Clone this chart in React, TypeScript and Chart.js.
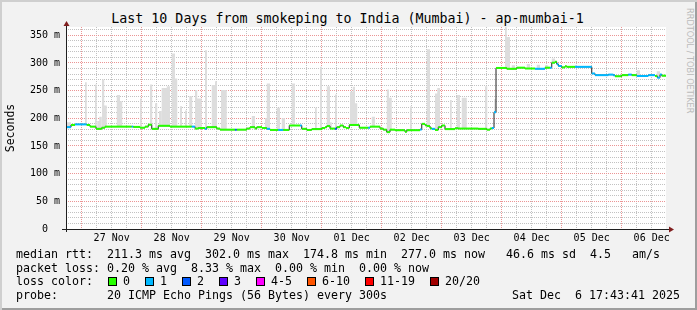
import React, { useEffect, useRef } from "react";
import { Chart, registerables } from "chart.js";

Chart.register(...registerables);

// ---------- text ----------
const titleText = "Last 10 Days from smokeping to India (Mumbai) - ap-mumbai-1";
const yAxisTitle = "Seconds";
const watermark = "RRDTOOL / TOBI OETIKER";

// ---------- axes ----------
const spanHours = 240; // 10 days, hours since Nov 26 17:43:41
const firstMidnightHour = 6.272; // Nov 27 00:00 in hours since start
const xTickLabels = ["27 Nov", "28 Nov", "29 Nov", "30 Nov", "01 Dec", "02 Dec", "03 Dec", "04 Dec", "05 Dec", "06 Dec"];
const yMax = 365;
const yTickLabels = ["0  ", "50 m", "100 m", "150 m", "200 m", "250 m", "300 m", "350 m"];

// ---------- median rtt (step changes) ----------
const medianHours = [
  0, 2.0, 3.6, 8.3, 9.6, 12.0, 14.3, 15.6, 26.3, 26.9, 29.6, 31.6, 32.9, 34.3, 36.9, 41.6,
  50.3, 51.6, 52.9, 55.6, 56.3, 60.3, 61.6, 67.6, 68.3, 72.3, 73.6, 75.6, 76.3, 78.4, 80.3, 81.6,
  84.9, 86.9, 89.3, 93.6, 94.3, 96.3, 98.3, 102.3, 103.6, 104.3, 105.6, 107.6, 108.3, 109.6, 110.9, 112.0,
  113.3, 117.3, 120.9, 121.6, 125.6, 126.9, 128.3, 129.6, 131.6, 135.6, 136.3, 141.6, 142.3, 143.6, 144.3, 145.6,
  146.3, 147.6, 148.9, 150.3, 151.6, 155.6, 156.9, 164.9, 168.3, 169.6, 170.3, 171.2, 172.0, 176.3, 180.3, 183.6,
  187.6, 191.6, 193.6, 194.3, 195.6, 196.3, 196.9, 198.3, 199.6, 200.3, 203.6, 210.3, 211.6, 216.9, 218.9, 219.6,
  222.3, 224.9, 226.3, 228.3, 232.9, 235.6, 236.5, 237.6, 238.3,
];
const medianMs = [
  184, 188, 189, 188, 185, 181, 183, 185, 185, 184.5, 183, 185, 188.5, 181, 186.5, 185,
  185, 181.5, 182.5, 181, 184, 181.5, 179.5, 179.5, 179.5, 181.5, 184, 181.5, 184, 182.5, 181, 179,
  179, 179, 187, 187, 181, 179, 180.5, 182.5, 184, 186, 181.5, 181, 184, 187, 184, 182.5,
  188, 183, 183, 185, 181.5, 179.5, 175, 179.5, 178.5, 175.5, 178.5, 180, 190, 187.5, 186, 182,
  181, 179, 184, 187, 180.5, 182, 181.5, 181, 179.5, 181.5, 182.5, 211, 291, 289.5, 291.5, 290,
  289.5, 291.5, 291.5, 300.5, 302, 298, 294.5, 292, 294, 293, 293, 281, 278, 279, 278, 276,
  278, 279, 278, 276.5, 278, 276.5, 273.5, 279, 277,
];
// lost pings out of 20 per step (index into lossColors)
const medianLoss = [
  1, 0, 1, 0, 0, 0, 0, 0, 1, 0, 0, 0, 0, 0, 0, 0,
  1, 0, 0, 1, 0, 0, 0, 2, 0, 0, 0, 0, 0, 0, 1, 0,
  1, 0, 0, 1, 0, 0, 0, 0, 0, 0, 0, 2, 0, 0, 0, 0,
  0, 0, 1, 0, 0, 0, 0, 0, 0, 0, 0, 1, 0, 0, 0, 0,
  1, 0, 0, 0, 0, 0, 0, 0, 0, 0, 1, 1, 0, 0, 0, 0,
  1, 0, 1, 0, 0, 1, 1, 0, 0, 0, 1, 1, 1, 1, 1, 0,
  0, 1, 0, 1, 1, 0, 1, 1, 0,
];

// ---------- smoke (ping spread above the median) ----------
const smokeStart = [
  0, 7.6, 11.6, 12.5, 13.3, 14.4, 15.3, 20.3, 21.6, 29.6, 33.6, 35.6, 37.2, 38.3, 40.3, 42.3,
  43.6, 45.6, 47.6, 49.3, 51.6, 52.5, 55.6, 58.3, 59.6, 62.0, 74.3, 79.6, 80.3, 84.3, 86.3, 90.3,
  99.6, 101.6, 104.3, 105.6, 107.6, 113.6, 114.7, 115.6, 122.3, 128.3, 129.2, 137.6, 144.3, 147.6,
  148.5, 153.6, 156.3, 158.3, 167.6, 171.3, 175.6, 176.3, 178.3, 184.3, 188.3, 191.6, 194.3, 203.6,
  228.3, 236.3,
];
const smokeEnd = [
  2.0, 8.3, 12.3, 13.3, 14.3, 15.3, 16.3, 21.6, 22.5, 30.3, 34.5, 36.5, 38.2, 40.3, 41.6, 43.6,
  44.5, 46.4, 48.3, 50.5, 52.5, 54.3, 56.4, 59.6, 60.4, 64.3, 75.6, 80.3, 81.6, 85.6, 87.6, 91.6,
  100.3, 102.4, 105.6, 106.3, 108.3, 114.7, 115.6, 116.5, 123.6, 129.2, 130.3, 138.3, 145.6, 148.5,
  149.6, 154.3, 157.6, 160.3, 168.5, 172.0, 176.3, 177.6, 179.6, 185.6, 189.6, 192.9, 195.6, 204.3,
  229.6, 237.6,
];
const smokeTop = [
  193, 265, 261, 195, 203, 270, 223, 242, 231, 236, 261, 227, 213, 255, 258, 317,
  272, 222, 214, 240, 251, 236, 323, 260, 267, 251, 204, 200, 263, 219, 200, 263,
  219, 293, 258, 193, 243, 248, 257, 227, 203, 252, 237, 222, 325, 245,
  255, 233, 242, 237, 258, 235, 365, 347, 296, 298, 297, 296, 308, 296,
  287, 285,
];

// ---------- legend ----------
const lossColors = ["#26ff00", "#00b8ff", "#0059ff", "#5e00ff", "#ff00ff", "#ff5500", "#ff0000", "#a10000"];
const lossLabels = ["0", "1", "2", "3", "4-5", "6-10", "11-19", "20/20"];
const rttRow = "median rtt:  211.3 ms avg  302.0 ms max  174.8 ms min  277.0 ms now   46.6 ms sd  4.5   am/s";
const lossRow = "packet loss: 0.20 % avg  8.33 % max  0.00 % min  0.00 % now";
const lossColorLabel = "loss color:  ";
const probeRow = "probe:       20 ICMP Echo Pings (56 Bytes) every 300s";
const dateText = "Sat Dec  6 17:43:41 2025";

const MONO = '"DejaVu Sans Mono", monospace';
const BG = "#f2f2f2";
const GRID_MINOR = "#c2c2c2";
const GRID_MAJOR = "#eb9595";
const AXIS = "#1f1f1f";
const ARROW = "#801f1f";

const canvasBg = {
  id: "canvasBg",
  beforeDraw(chart: any) {
    const { ctx, chartArea: a } = chart;
    ctx.save();
    ctx.fillStyle = "#ffffff";
    ctx.fillRect(a.left, a.top, a.right - a.left, a.bottom - a.top);
    ctx.restore();
  },
};

const rrdAxes = {
  id: "rrdAxes",
  afterDatasetsDraw(chart: any) {
    const { ctx, chartArea: a } = chart;
    const x0 = Math.round(a.left) + 0.5;
    const y0 = Math.round(a.bottom) + 0.5;
    ctx.save();
    ctx.strokeStyle = AXIS;
    ctx.lineWidth = 1;
    ctx.beginPath();
    ctx.moveTo(a.left - 4, y0);
    ctx.lineTo(a.right + 3, y0);
    ctx.moveTo(x0, a.bottom + 3);
    ctx.lineTo(x0, a.top - 1);
    ctx.stroke();
    ctx.fillStyle = ARROW;
    ctx.beginPath();
    ctx.moveTo(a.right + 8, y0);
    ctx.lineTo(a.right + 3, y0 - 3);
    ctx.lineTo(a.right + 3, y0 + 3);
    ctx.closePath();
    ctx.fill();
    ctx.beginPath();
    ctx.moveTo(x0, a.top - 6);
    ctx.lineTo(x0 - 3, a.top - 1);
    ctx.lineTo(x0 + 3, a.top - 1);
    ctx.closePath();
    ctx.fill();
    ctx.restore();
  },
};

function isMidnight(v: number) {
  const rel = (v - firstMidnightHour) / 24;
  return Math.abs(rel - Math.round(rel)) < 0.01;
}

export default function App() {
  const canvasRef = useRef<HTMLCanvasElement>(null);

  useEffect(() => {
    document.body.style.margin = "0";
    const lastIdx = medianHours.length - 1;

    const coloredPoints: any[] = [];
    medianHours.forEach((h, i) => {
      const next = i < lastIdx ? medianHours[i + 1] : spanHours;
      coloredPoints.push({ x: h, y: medianMs[i] }, { x: next, y: medianMs[i] }, { x: next, y: null });
    });
    const blackPoints = medianHours.map((h, i) => ({ x: h, y: medianMs[i] }));
    blackPoints.push({ x: spanHours, y: medianMs[lastIdx] });
    const smokePoints = smokeStart.flatMap((s, i) => [
      { x: s, y: 0 },
      { x: s, y: smokeTop[i] },
      { x: smokeEnd[i], y: smokeTop[i] },
      { x: smokeEnd[i], y: 0 },
    ]);

    const chart = new Chart(canvasRef.current as HTMLCanvasElement, {
      type: "line",
      data: {
        datasets: [
          {
            data: coloredPoints,
            borderWidth: 2,
            borderColor: lossColors[0],
            borderCapStyle: "butt",
            pointRadius: 0,
            spanGaps: false,
            fill: false,
            segment: {
              borderColor: (c: any) => lossColors[medianLoss[Math.floor(c.p0DataIndex / 3)]],
            },
          } as any,
          {
            data: blackPoints,
            stepped: true,
            borderWidth: 1,
            borderColor: "#202020",
            pointRadius: 0,
            fill: false,
          } as any,
          {
            data: smokePoints,
            borderWidth: 1,
            borderColor: "rgba(0,0,0,0)",
            pointRadius: 0,
            fill: { target: 1, above: "#dddddd", below: "rgba(0,0,0,0)" },
          } as any,
        ],
      },
      options: {
        responsive: false,
        maintainAspectRatio: false,
        animation: false,
        devicePixelRatio: 1,
        events: [],
        layout: { padding: { left: 0, top: 27, right: 31, bottom: 0 } },
        plugins: { legend: { display: false }, tooltip: { enabled: false }, title: { display: false } },
        scales: {
          x: {
            type: "linear",
            min: 0,
            max: spanHours,
            offset: false,
            afterBuildTicks: (scale: any) => {
              const ticks: any[] = [];
              for (let h = firstMidnightHour - 6; h <= spanHours; h += 6) if (h > 1) ticks.push({ value: h });
              scale.ticks = ticks;
            },
            afterFit: (scale: any) => {
              scale.height = 19;
              scale.paddingLeft = 0;
              scale.paddingRight = 0;
            },
            ticks: {
              autoSkip: false,
              maxRotation: 0,
              minRotation: 0,
              padding: 3.5,
              color: "#000",
              font: { family: MONO, size: 10 },
              callback: (v: any) => {
                const rel = (Number(v) - firstMidnightHour) / 24;
                const day = Math.floor(rel);
                return Math.abs(rel - day - 0.5) < 0.01 ? xTickLabels[day] ?? "" : "";
              },
            },
            grid: {
              drawTicks: false,
              lineWidth: 1,
              color: (c: any) => (isMidnight(c.tick.value) ? GRID_MAJOR : GRID_MINOR),
            },
            border: { display: false, dash: [1, 1] },
          } as any,
          y: {
            type: "linear",
            min: 0,
            max: yMax,
            afterBuildTicks: (scale: any) => {
              const ticks: any[] = [];
              for (let v = 0; v <= 360; v += 10) ticks.push({ value: v });
              scale.ticks = ticks;
            },
            afterFit: (scale: any) => {
              scale.width = 66;
              scale.paddingTop = 0;
              scale.paddingBottom = 0;
            },
            ticks: {
              autoSkip: false,
              padding: 6,
              color: "#000",
              font: { family: MONO, size: 10 },
              callback: (v: any) => (Number(v) % 50 === 0 ? yTickLabels[Number(v) / 50] : ""),
            },
            grid: {
              drawTicks: false,
              lineWidth: 1,
              color: (c: any) => (c.tick.value % 50 === 0 ? GRID_MAJOR : GRID_MINOR),
            },
            border: { display: false, dash: [1, 1] },
            title: {
              display: true,
              text: yAxisTitle,
              color: "#000",
              font: { family: MONO, size: 11.5 },
              padding: { top: 4, bottom: 0 },
            },
          } as any,
        },
      },
      plugins: [canvasBg, rrdAxes],
    });
    return () => chart.destroy();
  }, []);

  const rowStyle: React.CSSProperties = { height: 13.8 };

  return (
    <div
      style={{
        position: "absolute",
        left: 0,
        top: 0,
        width: 697,
        height: 310,
        background: BG,
        boxShadow: "inset 2px 2px 0 #cfcfcf, inset -2px -2px 0 #9e9e9e",
        overflow: "hidden",
        fontFamily: MONO,
        color: "#000",
      }}
    >
      <div
        style={{
          position: "absolute",
          left: -1,
          top: 11,
          width: 697,
          textAlign: "center",
          fontSize: "13.3px",
          lineHeight: "16px",
          whiteSpace: "pre",
        }}
      >
        {titleText}
      </div>
      <div
        style={{
          position: "absolute",
          left: 686,
          top: 8,
          writingMode: "vertical-rl",
          fontFamily: '"DejaVu Sans", sans-serif',
          fontSize: "8.2px",
          lineHeight: "8px",
          color: "#bbbbbb",
          whiteSpace: "pre",
        }}
      >
        {watermark}
      </div>
      <canvas
        ref={canvasRef}
        width={697}
        height={248}
        style={{ position: "absolute", left: 0, top: 0, width: 697, height: 248 }}
      />
      <div
        style={{
          position: "absolute",
          left: 16,
          top: 247.8,
          fontSize: "11.63px",
          lineHeight: "13.8px",
          whiteSpace: "pre",
        }}
      >
        <div style={rowStyle}>{rttRow}</div>
        <div style={rowStyle}>{lossRow}</div>
        <div style={rowStyle}>
          {lossColorLabel}
          {lossLabels.map((lab, i) => (
            <span key={lab}>
              <span
                style={{
                  display: "inline-block",
                  width: 9,
                  height: 9,
                  boxSizing: "border-box",
                  border: "1px solid #000",
                  background: lossColors[i],
                  verticalAlign: "-1px",
                  marginLeft: i === 0 ? 1 : 0,
                  marginRight: 6,
                }}
              />
              <span style={{ marginRight: 15 }}>{lab}</span>
            </span>
          ))}
        </div>
        <div style={rowStyle}>{probeRow}</div>
      </div>
      <div
        style={{
          position: "absolute",
          right: 17,
          top: 247.8 + 3 * 13.8,
          fontSize: "11.63px",
          lineHeight: "13.8px",
          whiteSpace: "pre",
        }}
      >
        {dateText}
      </div>
    </div>
  );
}
